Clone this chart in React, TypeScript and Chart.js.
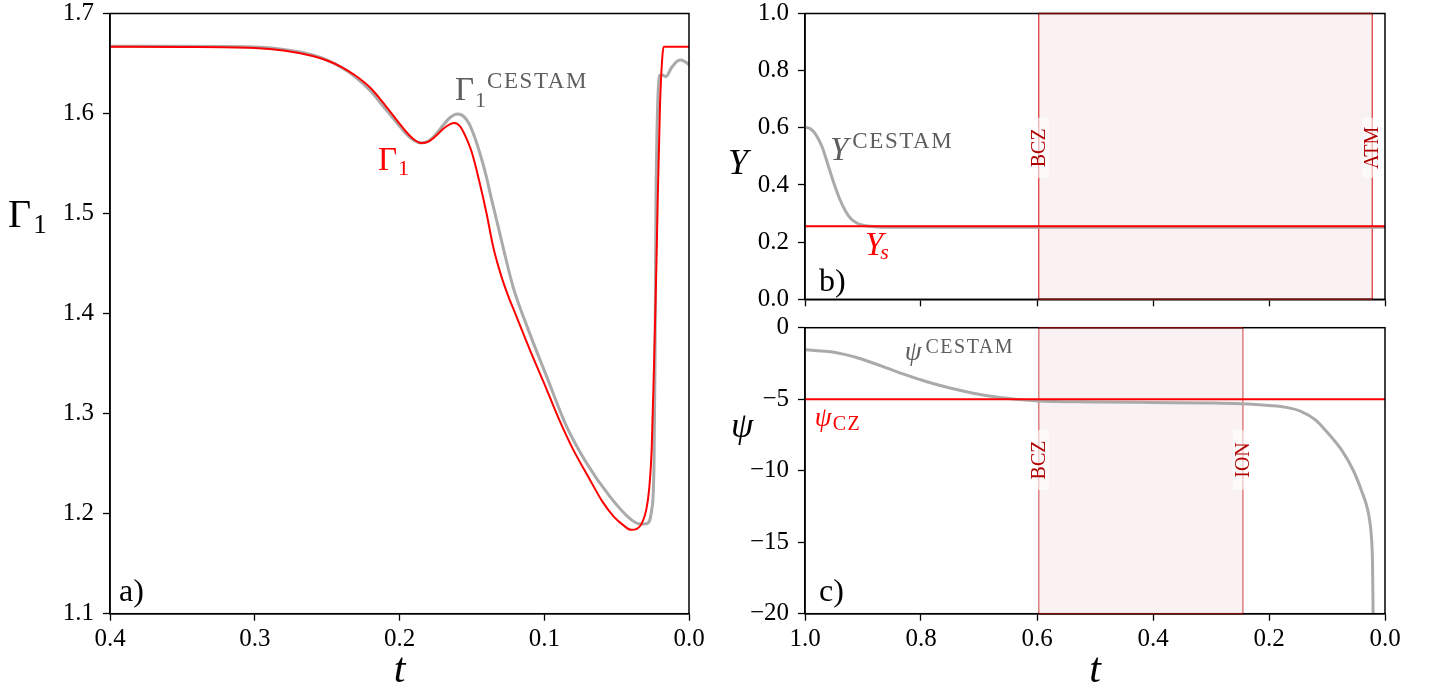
import React, { useEffect, useRef } from 'react';
import { Chart, registerables } from 'chart.js';

Chart.register(...registerables);

// ---------------- data ----------------
// Panel a) Gamma_1 vs t
const tRed = [0.4, 0.35, 0.3, 0.28, 0.26, 0.25, 0.24, 0.23, 0.22, 0.21, 0.2, 0.195, 0.19, 0.185, 0.18, 0.175, 0.17, 0.165, 0.162, 0.158, 0.155, 0.15, 0.145, 0.14, 0.135, 0.13, 0.125, 0.12, 0.11, 0.1, 0.09, 0.08, 0.07, 0.06, 0.052, 0.045, 0.04, 0.036, 0.0327, 0.0295, 0.0275, 0.0258, 0.0242, 0.0228, 0.0216, 0.02, 0.0185, 0.0175, 0.01, 0.0];
const gammaRed = [1.6667, 1.6665, 1.6655, 1.663, 1.6575, 1.653, 1.6465, 1.6375, 1.6255, 1.6085, 1.59, 1.581, 1.574, 1.5705, 1.572, 1.5775, 1.5845, 1.5895, 1.5905, 1.587, 1.579, 1.561, 1.533, 1.501, 1.465, 1.439, 1.418, 1.4, 1.364, 1.33, 1.295, 1.264, 1.238, 1.2125, 1.197, 1.188, 1.1838, 1.1848, 1.19, 1.204, 1.225, 1.2637, 1.347, 1.43, 1.5136, 1.61, 1.655, 1.6667, 1.6667, 1.6667];
const tGray = [0.4, 0.35, 0.3, 0.28, 0.26, 0.25, 0.24, 0.23, 0.22, 0.21, 0.2, 0.195, 0.19, 0.185, 0.18, 0.175, 0.17, 0.165, 0.16, 0.156, 0.152, 0.148, 0.144, 0.14, 0.1363, 0.132, 0.1283, 0.1214, 0.1121, 0.0983, 0.0845, 0.0707, 0.0546, 0.0408, 0.0339, 0.0292, 0.0258, 0.0242, 0.0235, 0.0228, 0.0218, 0.0205, 0.0185, 0.016, 0.012, 0.008, 0.0057, 0.003, 0.0];
const gammaGray = [1.6672, 1.6672, 1.6665, 1.664, 1.6585, 1.6535, 1.646, 1.636, 1.6225, 1.605, 1.5875, 1.579, 1.573, 1.5705, 1.5725, 1.579, 1.588, 1.596, 1.5995, 1.5975, 1.59, 1.576, 1.558, 1.537, 1.5136, 1.488, 1.4655, 1.426, 1.388, 1.337, 1.287, 1.2504, 1.217, 1.195, 1.1897, 1.19, 1.2037, 1.247, 1.347, 1.5136, 1.6, 1.638, 1.6385, 1.637, 1.646, 1.6525, 1.6535, 1.652, 1.649];

// Panel b) Y vs t
const tY = [1.0, 0.99, 0.98, 0.97, 0.96, 0.95, 0.94, 0.93, 0.92, 0.91, 0.9, 0.88, 0.85, 0.7, 0.5, 0.3, 0.1, 0.0];
const yCestam = [0.602, 0.596, 0.572, 0.53, 0.468, 0.405, 0.35, 0.308, 0.28, 0.266, 0.259, 0.254, 0.252, 0.252, 0.252, 0.252, 0.252, 0.252];
const ySurface = 0.256;

// Panel c) psi vs t
const tPsi = [1.0, 0.95, 0.91, 0.87, 0.83, 0.79, 0.75, 0.71, 0.67, 0.63, 0.6, 0.5, 0.4, 0.3, 0.25, 0.2, 0.17, 0.145, 0.12, 0.1, 0.075, 0.055, 0.04, 0.03, 0.026, 0.0235, 0.0215, 0.0205];
const psiCestam = [-1.55, -1.72, -2.1, -2.65, -3.25, -3.78, -4.22, -4.58, -4.85, -5.03, -5.12, -5.19, -5.23, -5.27, -5.32, -5.44, -5.57, -5.85, -6.45, -7.3, -8.55, -9.95, -11.45, -12.7, -13.6, -14.6, -16.5, -20.0];
const psiCZ = -5.0;

// Region boundaries
const tBCZ = 0.597;
const tATM = 0.022;
const tION = 0.245;

// ---------------- styles ----------------
const SERIF = '"Liberation Serif", "DejaVu Serif", serif';
const RED = '#ff0000';
const GRAY_LINE = '#aaaaaa';
const GRAY_TEXT = '#5e5e5e';
const DARK_RED = '#b00000';
const TICK_SIZE = 25;

Chart.defaults.font.family = SERIF;

type Part = { text: string; size: number; italic?: boolean; dy?: number; gap?: number; spacing?: number; color: string };

function drawRich(ctx: CanvasRenderingContext2D, x: number, y: number, parts: Part[]) {
  let cx = x;
  ctx.save();
  ctx.textAlign = 'left';
  ctx.textBaseline = 'alphabetic';
  for (const p of parts) {
    ctx.font = `${p.italic ? 'italic ' : ''}${p.size}px ${SERIF}`;
    (ctx as any).letterSpacing = `${p.spacing ?? 0}px`;
    ctx.fillStyle = p.color;
    ctx.fillText(p.text, cx, y + (p.dy ?? 0));
    cx += ctx.measureText(p.text).width + (p.gap ?? 0);
  }
  (ctx as any).letterSpacing = '0px';
  ctx.restore();
}

const pts = (xs: number[], ys: number[]) => xs.map((x, i) => ({ x, y: ys[i] }));

const gridOpts = {
  drawOnChartArea: false,
  drawTicks: true,
  tickLength: 7,
  tickWidth: 1.3,
  tickColor: '#000',
  color: '#000',
};
const borderOpts = { display: true, color: '#000', width: 1.5 };

function axisX(min: number, max: number, step: number, height: number, labels: boolean) {
  return {
    type: 'linear' as const,
    min,
    max,
    reverse: true,
    afterFit: (s: any) => {
      s.height = height;
      s.paddingLeft = 0;
      s.paddingRight = 0;
    },
    ticks: {
      stepSize: step,
      autoSkip: false,
      maxRotation: 0,
      minRotation: 0,
      padding: 4,
      color: '#000',
      font: { family: SERIF, size: TICK_SIZE },
      callback: (v: any) => (labels ? Number(v).toFixed(1) : ''),
    },
    grid: gridOpts,
    border: borderOpts,
  };
}

function axisY(min: number, max: number, step: number, width: number, fmt: (v: number) => string) {
  return {
    type: 'linear' as const,
    min,
    max,
    afterFit: (s: any) => {
      s.width = width;
      s.paddingTop = 0;
      s.paddingBottom = 0;
    },
    ticks: {
      stepSize: step,
      autoSkip: false,
      padding: 9,
      color: '#000',
      font: { family: SERIF, size: TICK_SIZE },
      callback: (v: any) => fmt(Number(v)),
    },
    grid: gridOpts,
    border: borderOpts,
  };
}

type SpanSpec = {
  from: number;
  to: number;
  lineColor: string;
  lineWidth: number;
  labels: { t: number; text: string }[];
  labelValue: number;
};

function makePlugin(opts: {
  offX: number;
  offY: number;
  span?: SpanSpec;
  letter: string;
  letterDx: number;
  letterY: number; // page baseline
  annotate: (ctx: CanvasRenderingContext2D, chart: any, P: (x: number, y: number) => [number, number]) => void;
}) {
  return {
    id: 'panelDecor',
    beforeDatasetsDraw(chart: any) {
      const { ctx, chartArea: a, scales } = chart;
      const sp = opts.span;
      if (!sp) return;
      const x1 = scales.x.getPixelForValue(sp.from);
      const x2 = scales.x.getPixelForValue(sp.to);
      ctx.save();
      ctx.fillStyle = 'rgba(150,0,0,0.05)';
      ctx.fillRect(Math.min(x1, x2), a.top, Math.abs(x2 - x1), a.bottom - a.top);
      ctx.strokeStyle = sp.lineColor;
      ctx.lineWidth = sp.lineWidth;
      for (const x of [x1, x2]) {
        ctx.beginPath();
        ctx.moveTo(x, a.top);
        ctx.lineTo(x, a.bottom);
        ctx.stroke();
      }
      const yc = scales.y.getPixelForValue(sp.labelValue);
      for (const l of sp.labels) {
        const x = scales.x.getPixelForValue(l.t);
        ctx.save();
        ctx.translate(x, yc);
        ctx.rotate(-Math.PI / 2);
        ctx.fillStyle = 'rgba(255,255,255,0.6)';
        ctx.fillRect(-30, -10, 60, 20);
        ctx.fillStyle = DARK_RED;
        ctx.font = `20px ${SERIF}`;
        ctx.textAlign = 'center';
        ctx.textBaseline = 'middle';
        ctx.fillText(l.text, 0, 1);
        ctx.restore();
      }
      ctx.restore();
    },
    afterDatasetsDraw(chart: any) {
      const { ctx, chartArea: a, scales } = chart;
      ctx.save();
      ctx.strokeStyle = '#000';
      ctx.lineWidth = 1.5;
      ctx.strokeRect(a.left, a.top, a.right - a.left, a.bottom - a.top);
      const sp = opts.span;
      if (sp) {
        const x1 = scales.x.getPixelForValue(sp.from);
        const x2 = scales.x.getPixelForValue(sp.to);
        ctx.strokeStyle = 'rgb(120,10,10)';
        ctx.beginPath();
        ctx.moveTo(x1, a.top);
        ctx.lineTo(x2, a.top);
        ctx.moveTo(x1, a.bottom);
        ctx.lineTo(x2, a.bottom);
        ctx.stroke();
      }
      ctx.restore();
      const P = (x: number, y: number): [number, number] => [x - opts.offX, y - opts.offY];
      drawRich(ctx, a.left + opts.letterDx, opts.letterY - opts.offY, [
        { text: opts.letter, size: 32, color: '#000' },
      ]);
      opts.annotate(ctx, chart, P);
    },
  };
}

function baseOptions(padding: any, scales: any) {
  return {
    responsive: false,
    animation: false as const,
    events: [] as any[],
    layout: { padding },
    scales,
    plugins: { legend: { display: false }, tooltip: { enabled: false } },
  };
}

function drawT(ctx: CanvasRenderingContext2D, x: number, y: number) {
  ctx.save();
  ctx.font = `italic 42px ${SERIF}`;
  ctx.fillStyle = '#000';
  ctx.textAlign = 'center';
  ctx.textBaseline = 'alphabetic';
  ctx.fillText('t', x, y);
  ctx.restore();
}

const C_TOP = 295; // page y of the bottom-right canvas

function configA(): any {
  return {
    type: 'line',
    data: {
      datasets: [
        { data: pts(tRed, gammaRed), borderColor: RED, borderWidth: 2, pointRadius: 0, cubicInterpolationMode: 'monotone', fill: false },
        { data: pts(tGray, gammaGray), borderColor: GRAY_LINE, borderWidth: 3, pointRadius: 0, cubicInterpolationMode: 'monotone', fill: false },
      ],
    },
    options: baseOptions(
      { top: 13.5, right: 31, left: 0, bottom: 0 },
      {
        x: axisX(0, 0.4, 0.1, 77.3, true),
        y: axisY(1.1, 1.7, 0.1, 110, (v) => v.toFixed(1)),
      }
    ),
    plugins: [
      makePlugin({
        offX: 0,
        offY: 0,
        letter: 'a)',
        letterDx: 9,
        letterY: 601,
        annotate: (ctx, chart) => {
          const { scales, chartArea: a } = chart;
          const gx = scales.x.getPixelForValue(0.1617);
          const gy = scales.y.getPixelForValue(1.6135);
          drawRich(ctx, gx, gy, [
            { text: 'Γ', size: 33, color: GRAY_TEXT, gap: 1 },
            { text: '1', size: 22, dy: 7, color: GRAY_TEXT, gap: 1 },
            { text: 'CESTAM', size: 23, dy: -12, spacing: 1.6, color: GRAY_TEXT },
          ]);
          const rx = scales.x.getPixelForValue(0.2149);
          const ry = scales.y.getPixelForValue(1.5436);
          drawRich(ctx, rx, ry, [
            { text: 'Γ', size: 33, color: RED, gap: 1 },
            { text: '1', size: 22, dy: 5, color: RED },
          ]);
          drawRich(ctx, 8, 227, [
            { text: 'Γ', size: 40, color: '#000', gap: 2 },
            { text: '1', size: 27, dy: 6, color: '#000' },
          ]);
          drawT(ctx, (a.left + a.right) / 2, 682);
        },
      }),
    ],
  };
}

function configB(): any {
  return {
    type: 'line',
    data: {
      datasets: [
        { data: pts([1, 0], [ySurface, ySurface]), borderColor: RED, borderWidth: 2, pointRadius: 0, fill: false },
        { data: pts(tY, yCestam), borderColor: GRAY_LINE, borderWidth: 3, pointRadius: 0, cubicInterpolationMode: 'monotone', fill: false },
      ],
    },
    options: baseOptions(
      { top: 13.5, right: 47, left: 0, bottom: 0 },
      {
        x: axisX(0, 1, 0.2, 20.7, false),
        y: axisY(0, 1, 0.2, 85, (v) => v.toFixed(1)),
      }
    ),
    plugins: [
      makePlugin({
        offX: 720,
        offY: 0,
        letter: 'b)',
        letterDx: 14,
        letterY: 291,
        span: {
          from: tBCZ,
          to: tATM,
          lineColor: 'rgba(215,25,25,0.9)',
          lineWidth: 1.2,
          labels: [
            { t: tBCZ, text: 'BCZ' },
            { t: tATM, text: 'ATM' },
          ],
          labelValue: 0.53,
        },
        annotate: (ctx, chart, P) => {
          const { scales } = chart;
          const gx = scales.x.getPixelForValue(0.957);
          const gy = scales.y.getPixelForValue(0.487);
          drawRich(ctx, gx, gy, [
            { text: 'Y', size: 33, italic: true, color: GRAY_TEXT, gap: 4 },
            { text: 'CESTAM', size: 23, dy: -12, spacing: 1.6, color: GRAY_TEXT },
          ]);
          const rx = scales.x.getPixelForValue(0.8966);
          const ry = scales.y.getPixelForValue(0.155);
          drawRich(ctx, rx, ry, [
            { text: 'Y', size: 33, italic: true, color: RED, gap: -3 },
            { text: 's', size: 22, italic: true, dy: 4, color: RED },
          ]);
          const [tx, ty] = P(728, 174);
          drawRich(ctx, tx, ty, [{ text: 'Y', size: 36, italic: true, color: '#000' }]);
        },
      }),
    ],
  };
}

function configC(): any {
  return {
    type: 'line',
    data: {
      datasets: [
        { data: pts([1, 0], [psiCZ, psiCZ]), borderColor: RED, borderWidth: 2, pointRadius: 0, fill: false },
        { data: pts(tPsi, psiCestam), borderColor: GRAY_LINE, borderWidth: 3, pointRadius: 0, cubicInterpolationMode: 'monotone', fill: false },
      ],
    },
    options: baseOptions(
      { top: 327.7 - C_TOP, right: 47, left: 0, bottom: 0 },
      {
        x: axisX(0, 1, 0.2, 77.3, true),
        y: axisY(-20, 0, 5, 85, (v) => (v === 0 ? '0' : '\u2212' + Math.abs(v))),
      }
    ),
    plugins: [
      makePlugin({
        offX: 720,
        offY: C_TOP,
        letter: 'c)',
        letterDx: 14,
        letterY: 601,
        span: {
          from: tBCZ,
          to: tION,
          lineColor: 'rgba(200,45,45,0.6)',
          lineWidth: 1.5,
          labels: [
            { t: tBCZ, text: 'BCZ' },
            { t: tION, text: 'ION' },
          ],
          labelValue: -9.25,
        },
        annotate: (ctx, chart, P) => {
          const { scales, chartArea: a } = chart;
          const gx = scales.x.getPixelForValue(0.828);
          const gy = scales.y.getPixelForValue(-2.26);
          drawRich(ctx, gx, gy, [
            { text: 'ψ', size: 27, italic: true, color: GRAY_TEXT, gap: 4 },
            { text: 'CESTAM', size: 20, dy: -7, spacing: 1.5, color: GRAY_TEXT },
          ]);
          const rx = scales.x.getPixelForValue(0.983);
          const ry = scales.y.getPixelForValue(-6.87);
          drawRich(ctx, rx, ry, [
            { text: 'ψ', size: 27, italic: true, color: RED, gap: 1 },
            { text: 'CZ', size: 20, dy: 4, spacing: 1.5, color: RED },
          ]);
          const [tx, ty] = P(731, 437);
          drawRich(ctx, tx, ty, [{ text: 'ψ', size: 36, italic: true, color: '#000' }]);
          drawT(ctx, (a.left + a.right) / 2, 682 - C_TOP);
        },
      }),
    ],
  };
}

export default function App() {
  const aRef = useRef<HTMLCanvasElement>(null);
  const bRef = useRef<HTMLCanvasElement>(null);
  const cRef = useRef<HTMLCanvasElement>(null);

  useEffect(() => {
    const charts = [
      new Chart(aRef.current as HTMLCanvasElement, configA()),
      new Chart(bRef.current as HTMLCanvasElement, configB()),
      new Chart(cRef.current as HTMLCanvasElement, configC()),
    ];
    return () => charts.forEach((c) => c.destroy());
  }, []);

  return (
    <div style={{ position: 'absolute', left: 0, top: 0, width: 1432, height: 691, background: '#fff', overflow: 'hidden' }}>
      <canvas ref={aRef} width={720} height={691} style={{ position: 'absolute', left: 0, top: 0, width: 720, height: 691 }} />
      <canvas ref={bRef} width={712} height={320} style={{ position: 'absolute', left: 720, top: 0, width: 712, height: 320 }} />
      <canvas ref={cRef} width={712} height={691 - C_TOP} style={{ position: 'absolute', left: 720, top: C_TOP, width: 712, height: 691 - C_TOP }} />
    </div>
  );
}
